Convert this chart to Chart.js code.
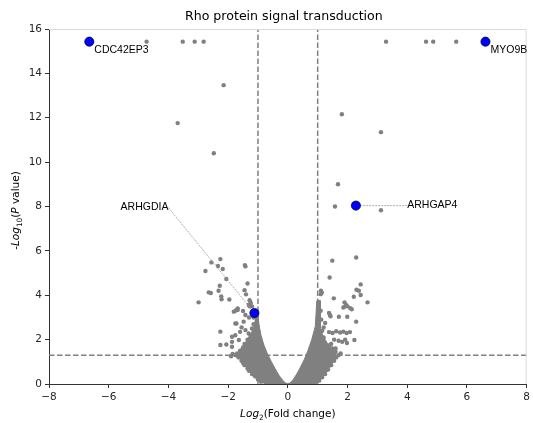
<!DOCTYPE html>
<html>
<head>
<meta charset="utf-8">
<script src="https://cdn.jsdelivr.net/npm/chart.js@4.4.1/dist/chart.umd.min.js"></script>
<style>
  html, body { margin: 0; background: #fff; }
  #wrap { width: 533px; height: 423px; }
</style>
</head>
<body>
<div id="wrap"><canvas id="chart" width="533" height="423"></canvas></div>
<script>
const chartTitle = 'Rho protein signal transduction';
const xRange = [-8, 8];
const yRange = [0, 16];
const tickStep = 2;
const fcCut = 1;      // |log2 FC| threshold
const pCut = 1.3;     // -log10(0.05)

// highlighted genes
const hitGenes = ['CDC42EP3', 'MYO9B', 'ARHGAP4', 'ARHGDIA'];
const hitFC = [-6.65, 6.62, 2.28, -1.12];
const hitP = [15.43, 15.43, 8.04, 3.2];
// where the callout text sits (data units), null = label next to the dot
const calloutFC = [null, null, 4.0, -4.0];
const calloutP = [null, null, 8.04, 7.95];

// grey genes [log2FC, -log10 p]
const outlierPts = [
  [-4.73, 15.43], [-3.52, 15.43], [-3.12, 15.43], [-2.82, 15.43],
  [3.29, 15.43], [4.63, 15.43], [4.87, 15.43], [5.64, 15.43],
  [-2.15, 13.47], [-3.69, 11.76], [-2.48, 10.4], [1.81, 12.16],
  [3.12, 11.35], [1.68, 9.0], [1.58, 8.0], [3.12, 7.83]
];
const leftPts = [
  [-2.26, 5.63], [-2.56, 5.48], [-2.34, 5.32], [-2.18, 5.18], [-2.76, 5.09],
  [-1.44, 5.36], [-1.42, 5.3], [-2.06, 4.73], [-1.35, 4.53], [-2.28, 4.43],
  [-2.65, 4.13], [-2.58, 4.1], [-2.32, 4.2], [-2.23, 3.95], [-2.22, 3.82],
  [-1.96, 3.81], [-1.45, 4.23], [-1.4, 4.04], [-2.99, 3.68], [-1.28, 3.78],
  [-1.74, 3.31], [-1.68, 3.34], [-1.5, 3.29], [-1.24, 3.65], [-1.2, 3.5],
  [-1.48, 2.81], [-1.72, 2.73], [-1.81, 3.26], [-1.68, 3.41], [-1.31, 3.57],
  [-1.28, 3.5], [-1.42, 3.11], [-2.26, 2.36], [-1.76, 2.73], [-1.42, 2.43],
  [-1.31, 2.28], [-2.26, 1.76], [-2.06, 1.78], [-1.87, 2.13], [-1.87, 1.9],
  [-1.87, 1.68], [-1.64, 1.98], [-1.76, 2.2], [-1.7, 1.38], [-1.15, 3.0],
  [-1.3, 3.0], [-1.55, 2.55], [-1.6, 2.35]
];
const rightPts = [
  [1.49, 5.56], [2.29, 5.7], [1.4, 4.8], [2.44, 4.49], [2.3, 4.25],
  [2.38, 4.2], [2.44, 4.01], [2.21, 3.93], [1.11, 4.2], [1.14, 4.12],
  [1.1, 4.05], [1.54, 3.86], [2.67, 3.68], [1.9, 3.68], [1.86, 3.45],
  [1.92, 3.5], [2.09, 3.42], [2.14, 3.37], [1.41, 3.11], [1.38, 3.2],
  [1.43, 3.05], [1.71, 3.03], [1.99, 3.03], [2.29, 2.81], [1.95, 3.56],
  [2.0, 3.5], [1.38, 2.34], [1.5, 2.3], [1.62, 2.38], [1.75, 2.32],
  [1.86, 2.36], [1.97, 2.3], [2.08, 2.34], [1.7, 1.95], [1.82, 1.9],
  [1.92, 2.0], [1.98, 1.85], [1.77, 1.38], [1.6, 1.6], [1.55, 2.0],
  [1.25, 2.75], [1.2, 2.55], [2.23, 1.98], [1.45, 1.8]
];
const edgePts = [
  [-1.75, 1.3], [-1.65, 1.2], [-1.55, 1.05], [-1.5, 0.95], [-1.45, 0.85],
  [-1.35, 0.7], [-1.3, 0.6], [-1.2, 0.45], [-1.1, 0.35], [-1.0, 0.2],
  [-0.9, 0.1], [-1.6, 1.5], [-1.5, 1.65], [-1.45, 1.8], [-1.35, 2.0],
  [-1.25, 2.2], [-1.2, 2.5], [-1.15, 2.7], [-1.85, 1.35], [-1.9, 1.25],
  [1.7, 1.3], [1.62, 1.2], [1.55, 1.05], [1.45, 0.85], [1.35, 0.65],
  [1.25, 0.45], [1.15, 0.3], [1.05, 0.15], [1.6, 1.45], [1.5, 1.6],
  [1.4, 1.75], [1.2, 2.1], [1.15, 2.4], [1.12, 2.9], [1.1, 3.3],
  [-1.03, 2.4], [-1.02, 2.6], [-1.03, 2.8], [-1.05, 3.0],
  [1.02, 2.9], [1.03, 3.1], [1.02, 3.3], [1.03, 3.5], [1.04, 3.7]
];
// outline of the dense bulk of non-significant genes
const cloudPts = [
  [-0.75, 0.0], [-0.98, 0.15], [-1.18, 0.4], [-1.34, 0.65], [-1.47, 0.9],
  [-1.6, 1.12], [-1.7, 1.32], [-1.6, 1.55], [-1.47, 1.75], [-1.36, 2.0],
  [-1.22, 2.3], [-1.12, 2.65], [-1.08, 3.0], [-1.0, 3.1],
  [-0.97, 2.7], [-0.9, 2.2], [-0.8, 1.75], [-0.68, 1.35], [-0.55, 1.0],
  [-0.42, 0.68], [-0.3, 0.4], [-0.18, 0.18], [-0.08, 0.05], [0.0, 0.02],
  [0.08, 0.05], [0.18, 0.2], [0.3, 0.45], [0.42, 0.75], [0.55, 1.1],
  [0.67, 1.5], [0.8, 2.0], [0.92, 2.6], [0.97, 3.75],
  [1.08, 3.75], [1.08, 3.0], [1.1, 2.5], [1.18, 2.15], [1.32, 1.85],
  [1.48, 1.6], [1.62, 1.38], [1.58, 1.15], [1.48, 0.9], [1.35, 0.62],
  [1.2, 0.35], [1.05, 0.12], [0.93, 0.0]
];

const GREY = '#808080';
const toXY = arr => arr.map(([x, y]) => ({ x, y }));
const minus = v => (v < 0 ? '\u2212' + Math.abs(v) : '' + v);

function richText(ctx, parts, cx, cy, rot) {
  const size = 10.5;
  const fontOf = p => (p.it ? 'italic ' : '') + (p.sub ? size * 0.7 : size) + 'px "DejaVu Sans"';
  const widths = parts.map(p => { ctx.font = fontOf(p); return ctx.measureText(p.t).width; });
  const total = widths.reduce((a, b) => a + b, 0);
  ctx.save();
  ctx.translate(cx, cy);
  ctx.rotate(rot);
  ctx.textAlign = 'left';
  ctx.textBaseline = 'alphabetic';
  ctx.fillStyle = '#000';
  let x0 = -total / 2;
  parts.forEach((p, i) => {
    ctx.font = fontOf(p);
    ctx.fillText(p.t, x0, size * 0.36 + (p.sub ? size * 0.28 : 0));
    x0 += widths[i];
  });
  ctx.restore();
}

const texts = {
  id: 'texts',
  afterDatasetsDraw(chart) {
    const { ctx, chartArea: a, scales: { x, y } } = chart;
    ctx.save();
    // light top / right frame
    ctx.strokeStyle = '#d9d9d9';
    ctx.lineWidth = 1;
    ctx.beginPath();
    ctx.moveTo(a.left, a.top + 0.5);
    ctx.lineTo(a.right - 0.5, a.top + 0.5);
    ctx.lineTo(a.right - 0.5, a.bottom);
    ctx.stroke();

    ctx.fillStyle = '#000';
    ctx.textBaseline = 'middle';
    ctx.textAlign = 'center';
    ctx.font = '12.6px "DejaVu Sans"';
    ctx.fillText(chartTitle, (a.left + a.right) / 2 - 4, 17);

    ctx.font = '10.5px "Liberation Sans", Arial';
    hitGenes.forEach((g, i) => {
      const px = x.getPixelForValue(hitFC[i]);
      const py = y.getPixelForValue(hitP[i]);
      if (calloutFC[i] === null) {
        ctx.textAlign = 'left';
        ctx.fillText(g, px + 5, py + 8);
      } else {
        ctx.textAlign = calloutFC[i] < hitFC[i] ? 'right' : 'left';
        ctx.fillText(g, x.getPixelForValue(calloutFC[i]), y.getPixelForValue(calloutP[i]) - 1);
      }
    });

    richText(ctx, [{ t: 'Log', it: true }, { t: '2', sub: true }, { t: '(Fold change)' }],
      (a.left + a.right) / 2, 413, 0);
    richText(ctx, [{ t: '-' }, { t: 'Log', it: true }, { t: '10', sub: true }, { t: '(' },
      { t: 'P', it: true }, { t: ' value)' }], 15, (a.top + a.bottom) / 2 + 4, -Math.PI / 2);
    ctx.restore();
  }
};

const datasets = [
  {
    type: 'line', data: toXY(cloudPts), fill: 'shape', backgroundColor: GREY,
    borderColor: GREY, borderWidth: 1, pointRadius: 0, tension: 0, order: 6
  },
  {
    type: 'scatter', data: toXY([...outlierPts, ...leftPts, ...rightPts, ...edgePts]),
    backgroundColor: GREY, borderWidth: 0, pointRadius: 2.2, order: 5
  },
  ...[
    [[-fcCut, yRange[0]], [-fcCut, yRange[1]]],
    [[fcCut, yRange[0]], [fcCut, yRange[1]]],
    [[xRange[0], pCut], [xRange[1], pCut]]
  ].map(seg => ({
    type: 'line', data: toXY(seg), borderColor: GREY, borderWidth: 1.5,
    borderDash: [5.5, 2.5], pointRadius: 0, fill: false, order: 4
  })),
  ...hitGenes.map((g, i) => calloutFC[i] === null ? null : ({
    type: 'line', data: [{ x: calloutFC[i], y: calloutP[i] }, { x: hitFC[i], y: hitP[i] }],
    borderColor: '#9a9a9a', borderWidth: 0.8, borderDash: [2, 1], pointRadius: 0,
    fill: false, order: 3
  })).filter(Boolean),
  {
    type: 'scatter', data: hitFC.map((v, i) => ({ x: v, y: hitP[i] })),
    backgroundColor: '#0000ff', borderColor: '#000', borderWidth: 0.7,
    pointRadius: 4.6, order: 1
  }
];

const tickFont = { family: 'DejaVu Sans', size: 10.5 };

new Chart(document.getElementById('chart'), {
  type: 'scatter',
  data: { datasets },
  options: {
    responsive: false,
    animation: false,
    devicePixelRatio: 1,
    events: [],
    layout: { padding: { top: 29, right: 6, left: 0, bottom: 0 } },
    plugins: { legend: { display: false }, tooltip: { enabled: false } },
    scales: {
      x: {
        type: 'linear', min: xRange[0], max: xRange[1],
        ticks: { stepSize: tickStep, font: tickFont, color: '#262626', padding: 3, callback: minus },
        grid: { drawOnChartArea: false, tickLength: 4, tickColor: '#333' },
        border: { color: '#333', width: 1 },
        afterFit: s => { s.height = 39; }
      },
      y: {
        type: 'linear', min: yRange[0], max: yRange[1],
        ticks: { stepSize: tickStep, font: tickFont, color: '#262626', padding: 3, callback: minus },
        grid: { drawOnChartArea: false, tickLength: 4, tickColor: '#333' },
        border: { color: '#333', width: 1 },
        afterFit: s => { s.width = 49; }
      }
    }
  },
  plugins: [texts]
});
</script>
</body>
</html>
